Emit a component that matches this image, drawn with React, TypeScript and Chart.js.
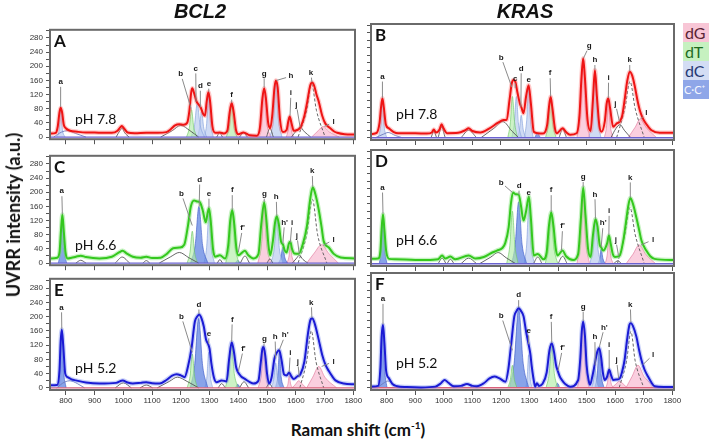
import React, { useEffect, useRef } from "react";
import { Chart, registerables } from "chart.js";
Chart.register(...registerables);

// ---------- axis values ----------
const X_MIN = 745;
const X_MAX = 1806;
const X_STEP = 100;
const Y_MIN = -6;
const Y_STEP = 20;
const Y_LABEL_EVERY = 40;

// ---------- spectra (Raman shift, intensity) ----------
const A_x = [748,765,772,778,782,787,793,800,815,840,870,900,930,960,980,990,995,1002,1015,1040,1080,1120,1150,1165,1180,1195,1210,1222,1230,1236,1240,1246,1255,1262,1270,1278,1284,1290,1296,1302,1310,1320,1336,1350,1362,1370,1377,1384,1392,1400,1418,1440,1465,1475,1484,1490,1496,1504,1511,1518,1526,1531,1537,1545,1555,1568,1574,1579,1585,1593,1605,1616,1630,1640,1650,1657,1664,1672,1680,1692,1703,1720,1735,1744,1770,1806];
const A_y = [10,12,30,70,83,70,35,25,18,15,13,13,12,12,18,28,31,25,13,11,12,12,14,22,33,36,35,40,75,125,138,125,100,92,82,65,60,100,127,100,30,12,13,10,18,70,96,70,20,8,13,5,4,25,110,138,110,40,25,60,140,160,140,50,14,20,45,58,40,18,20,27,60,100,145,154,145,120,100,60,38,25,15,12,8,7];

const B_x = [748,765,775,780,785,790,797,808,825,840,900,940,958,965,972,985,992,999,1012,1050,1075,1087,1100,1128,1160,1190,1209,1220,1230,1238,1244,1250,1258,1266,1272,1279,1288,1297,1305,1315,1330,1345,1362,1368,1374,1380,1389,1395,1416,1428,1442,1465,1475,1482,1488,1494,1503,1514,1522,1529,1536,1545,1552,1564,1570,1576,1582,1593,1605,1616,1625,1633,1642,1651,1660,1669,1678,1686,1695,1703,1715,1727,1756,1806];
const B_y = [10,13,40,80,105,80,35,25,15,12,12,11,14,22,14,22,36,25,12,13,20,25,18,14,25,40,47,48,100,145,154,150,120,92,80,65,110,140,90,16,12,11,35,80,109,80,25,12,25,15,8,12,60,160,212,160,50,18,100,180,110,30,16,45,90,105,80,29,38,43,60,100,150,176,165,136,100,74,55,43,30,20,13,13];

const C_x = [748,770,778,783,788,793,799,806,820,835,852,870,917,960,985,998,1010,1033,1060,1080,1100,1130,1150,1173,1196,1212,1225,1235,1246,1256,1266,1276,1287,1293,1298,1304,1312,1319,1336,1354,1365,1372,1379,1386,1393,1400,1423,1435,1453,1470,1480,1490,1498,1505,1511,1520,1528,1534,1541,1549,1555,1562,1568,1576,1581,1587,1595,1610,1625,1639,1650,1659,1668,1680,1690,1697,1715,1732,1756,1806];
const C_y = [13,15,30,90,137,90,30,13,15,18,21,17,13,18,30,35,28,18,15,18,14,15,25,42,44,52,106,160,177,174,172,150,115,140,155,120,40,18,22,13,50,120,150,110,45,22,35,22,13,25,110,172,120,50,22,60,115,132,110,60,53,35,30,55,60,40,27,26,55,106,180,214,195,150,100,62,44,26,16,13];

const D_x = [748,770,778,782,787,792,798,808,830,900,940,980,994,1005,1023,1040,1087,1110,1140,1165,1186,1205,1215,1227,1235,1242,1252,1262,1270,1279,1288,1298,1305,1315,1329,1349,1360,1368,1376,1384,1392,1398,1416,1428,1453,1470,1480,1488,1496,1505,1514,1522,1531,1538,1546,1551,1558,1572,1578,1584,1592,1599,1616,1628,1637,1645,1653,1662,1674,1684,1692,1709,1723,1738,1806];
const D_y = [13,14,35,90,132,90,35,13,12,10,10,12,22,14,19,12,22,14,18,28,35,42,55,97,160,190,185,184,155,115,140,179,120,22,26,12,30,100,137,100,40,22,35,20,10,25,120,203,130,40,18,75,119,100,50,44,35,55,75,55,25,18,22,60,106,150,175,160,124,90,62,35,20,13,10];

const E_x = [748,770,778,782,786,791,798,806,820,835,870,917,975,998,1015,1033,1060,1080,1100,1126,1150,1170,1185,1200,1213,1225,1237,1249,1257,1264,1272,1280,1288,1295,1300,1307,1315,1324,1342,1359,1368,1377,1385,1392,1397,1410,1423,1440,1453,1470,1478,1484,1488,1494,1500,1507,1516,1526,1535,1542,1550,1559,1568,1577,1584,1593,1605,1616,1630,1642,1650,1657,1664,1674,1684,1692,1703,1715,1727,1738,1767,1806];
const E_y = [7,8,50,130,164,120,40,30,24,21,15,12,14,21,15,12,14,16,13,12,22,34,38,35,30,60,110,186,200,206,195,172,135,123,110,65,30,16,21,18,80,128,100,60,47,32,25,16,12,20,70,110,115,90,40,12,30,83,100,106,80,38,35,43,33,25,32,38,74,150,188,195,185,155,120,92,65,47,32,21,12,10];

const F_x = [748,770,778,782,787,792,798,808,820,837,870,920,970,990,1003,1015,1035,1060,1081,1100,1116,1140,1160,1177,1195,1216,1226,1235,1247,1255,1262,1270,1279,1288,1297,1303,1308,1316,1320,1326,1333,1345,1360,1370,1378,1386,1393,1398,1406,1413,1425,1442,1470,1478,1483,1488,1494,1500,1507,1512,1520,1529,1537,1544,1551,1557,1563,1572,1579,1585,1593,1605,1616,1625,1633,1642,1650,1655,1662,1674,1684,1692,1703,1715,1727,1738,1770,1806];
const F_y = [3,5,55,135,168,120,45,25,10,4,2,1,3,12,21,14,4,5,10,5,4,12,25,30,25,16,50,110,191,205,213,205,191,150,115,90,56,15,3,12,5,10,40,100,119,95,60,47,30,21,10,3,20,80,150,177,140,60,20,8,30,65,95,106,80,40,21,30,49,35,21,22,25,45,74,130,168,173,165,137,100,74,48,30,14,4,2,2];

// ---------- fitted components: [kind, x,y, x,y, ...] ----------
// kinds: G=dG, T=dT, C=dC, CC=C·C+, O=grey outline, K=grey dashed, W=blue-grey outline
const A_comps: (string | number)[][] = [
  ["W", 758,0, 785,14, 805,18, 835,10, 870,0],
  ["C", 768,0, 777,22, 782,80, 788,22, 797,0],
  ["O", 975,0, 988,18, 996,25, 1005,12, 1020,0],
  ["O", 1130,0, 1170,18, 1200,33, 1232,18, 1262,0],
  ["T", 1220,0, 1230,28, 1237,78, 1245,28, 1256,0],
  ["C", 1236,0, 1248,35, 1257,95, 1267,35, 1282,0],
  ["C", 1258,0, 1265,25, 1272,72, 1280,25, 1290,0],
  ["C", 1282,0, 1290,38, 1297,125, 1304,38, 1313,0],
  ["O", 1325,0, 1335,12, 1345,0],
  ["T", 1358,0, 1369,30, 1377,95, 1385,30, 1396,0],
  ["O", 1404,0, 1418,12, 1432,0],
  ["G", 1468,0, 1481,42, 1490,138, 1499,42, 1512,0],
  ["O", 1498,0, 1510,25, 1522,0],
  ["C", 1510,0, 1522,48, 1531,160, 1540,48, 1552,0],
  ["G", 1567,0, 1573,18, 1579,56, 1585,18, 1592,0],
  ["O", 1585,0, 1602,18, 1615,28, 1630,15, 1652,0],
  ["K", 1608,0, 1638,75, 1655,150, 1672,75, 1702,0],
  ["G", 1655,0, 1678,18, 1695,30, 1716,15, 1752,0],
];
const B_comps: (string | number)[][] = [
  ["W", 760,0, 790,10, 805,14, 830,6, 855,0],
  ["C", 770,0, 779,32, 785,102, 791,32, 800,0],
  ["O", 955,0, 965,16, 975,0],
  ["O", 980,0, 992,28, 1005,0],
  ["O", 1060,0, 1087,20, 1115,0],
  ["O", 1130,0, 1175,25, 1207,43, 1238,18, 1262,0],
  ["T", 1224,0, 1233,40, 1240,110, 1248,40, 1258,0],
  ["C", 1238,0, 1247,40, 1254,110, 1261,40, 1272,0],
  ["C", 1258,0, 1265,22, 1271,60, 1278,22, 1286,0],
  ["C", 1282,0, 1290,45, 1297,135, 1304,45, 1313,0],
  ["CC", 1318,0, 1328,12, 1338,0],
  ["T", 1356,0, 1366,36, 1374,105, 1382,36, 1393,0],
  ["O", 1403,0, 1416,22, 1430,0],
  ["G", 1466,0, 1479,70, 1488,210, 1497,70, 1510,0],
  ["C", 1508,0, 1520,58, 1529,178, 1538,58, 1550,0],
  ["G", 1562,0, 1570,32, 1576,100, 1583,32, 1592,0],
  ["O", 1585,0, 1603,25, 1617,35, 1632,20, 1655,0],
  ["K", 1605,0, 1634,78, 1652,150, 1670,78, 1702,0],
  ["G", 1645,0, 1670,28, 1688,50, 1708,28, 1745,0],
];
const C_comps: (string | number)[][] = [
  ["CC", 774,0, 782,40, 788,135, 794,40, 803,0],
  ["O", 835,0, 852,8, 870,0],
  ["O", 972,0, 996,17, 1022,0],
  ["O", 1068,0, 1080,7, 1092,0],
  ["O", 1125,0, 1165,18, 1195,30, 1228,15, 1262,0],
  ["T", 1222,0, 1232,30, 1240,90, 1248,30, 1258,0],
  ["CC", 1234,0, 1250,50, 1263,160, 1276,50, 1294,0],
  ["C", 1281,0, 1290,45, 1298,140, 1306,45, 1317,0],
  ["O", 1327,0, 1336,10, 1345,0],
  ["T", 1356,0, 1369,48, 1379,145, 1389,48, 1402,0],
  ["CC", 1390,0, 1398,8, 1406,0],
  ["O", 1407,0, 1423,20, 1439,0],
  ["G", 1468,0, 1481,55, 1490,165, 1499,55, 1512,0],
  ["O", 1500,0, 1510,12, 1520,0],
  ["C", 1513,0, 1525,40, 1534,125, 1543,40, 1555,0],
  ["CC", 1540,0, 1548,15, 1555,45, 1562,15, 1571,0],
  ["G", 1569,0, 1576,17, 1581,50, 1587,17, 1596,0],
  ["O", 1588,0, 1603,14, 1612,22, 1625,10, 1642,0],
  ["K", 1608,0, 1638,80, 1658,180, 1676,80, 1708,0],
  ["G", 1638,0, 1664,28, 1690,52, 1714,28, 1748,0],
];
const D_comps: (string | number)[][] = [
  ["CC", 774,0, 781,40, 787,128, 793,40, 801,0],
  ["O", 980,0, 994,15, 1008,0],
  ["O", 1011,0, 1023,12, 1036,0],
  ["O", 1060,0, 1087,15, 1115,0],
  ["O", 1125,0, 1165,18, 1190,30, 1218,16, 1252,0],
  ["T", 1220,0, 1231,48, 1240,140, 1249,48, 1260,0],
  ["CC", 1238,0, 1250,52, 1262,165, 1274,52, 1290,0],
  ["C", 1281,0, 1290,50, 1298,160, 1306,50, 1317,0],
  ["O", 1314,0, 1329,18, 1344,0],
  ["T", 1355,0, 1366,42, 1376,130, 1386,42, 1399,0],
  ["O", 1400,0, 1416,20, 1432,0],
  ["G", 1466,0, 1479,62, 1488,195, 1497,62, 1510,0],
  ["C", 1511,0, 1522,38, 1531,115, 1540,38, 1551,0],
  ["CC", 1539,0, 1546,14, 1551,40, 1557,14, 1565,0],
  ["G", 1565,0, 1572,23, 1578,70, 1584,23, 1593,0],
  ["O", 1594,0, 1610,8, 1622,0],
  ["K", 1608,0, 1634,78, 1652,150, 1670,78, 1702,0],
  ["G", 1638,0, 1662,25, 1684,50, 1707,25, 1742,0],
];
const E_comps: (string | number)[][] = [
  ["W", 768,0, 795,16, 815,20, 840,12, 865,0],
  ["CC", 774,0, 780,50, 786,160, 792,50, 801,0],
  ["O", 972,0, 1000,14, 1028,0],
  ["O", 1058,0, 1080,8, 1102,0],
  ["O", 1118,0, 1160,18, 1188,30, 1222,18, 1262,0],
  ["T", 1222,0, 1232,32, 1240,95, 1248,32, 1258,0],
  ["CC", 1233,0, 1248,62, 1262,195, 1276,62, 1294,0],
  ["C", 1284,0, 1291,32, 1297,100, 1303,32, 1311,0],
  ["O", 1330,0, 1342,12, 1355,0],
  ["T", 1355,0, 1366,40, 1376,120, 1386,40, 1399,0],
  ["CC", 1390,0, 1398,10, 1406,0],
  ["O", 1404,0, 1420,17, 1436,0],
  ["G", 1469,0, 1480,36, 1488,112, 1496,36, 1507,0],
  ["O", 1497,0, 1508,12, 1519,0],
  ["C", 1514,0, 1523,23, 1530,70, 1537,23, 1547,0],
  ["CC", 1529,0, 1537,32, 1543,100, 1549,32, 1559,0],
  ["G", 1567,0, 1573,11, 1577,35, 1582,11, 1590,0],
  ["G", 1588,0, 1600,11, 1610,20, 1622,11, 1636,0],
  ["K", 1614,0, 1638,75, 1654,160, 1670,75, 1697,0],
  ["G", 1638,0, 1659,30, 1680,60, 1701,30, 1742,0],
];
const F_comps: (string | number)[][] = [
  ["W", 768,0, 792,14, 805,18, 830,6, 852,0],
  ["CC", 774,0, 780,55, 786,165, 792,55, 801,0],
  ["T", 1224,0, 1233,22, 1240,60, 1247,22, 1256,0],
  ["CC", 1230,0, 1246,65, 1262,210, 1278,65, 1297,0],
  ["C", 1287,0, 1292,28, 1297,88, 1302,28, 1309,0],
  ["T", 1358,0, 1369,38, 1378,115, 1387,38, 1399,0],
  ["CC", 1390,0, 1398,12, 1406,0],
  ["G", 1468,0, 1479,55, 1488,175, 1497,55, 1509,0],
  ["C", 1517,0, 1524,18, 1529,55, 1535,18, 1543,0],
  ["CC", 1529,0, 1537,34, 1544,105, 1551,34, 1561,0],
  ["G", 1567,0, 1573,14, 1579,45, 1585,14, 1593,0],
  ["G", 1588,0, 1603,10, 1615,18, 1628,10, 1642,0],
  ["K", 1614,0, 1640,72, 1655,150, 1670,72, 1700,0],
  ["G", 1638,0, 1659,30, 1680,60, 1701,30, 1742,0],
];

// ---------- peak labels: [text, labelX, labelY, tipX, tipY] ----------
const A_labels: (string | number)[][] = [
  ["a", 782,156, 782,85], ["b", 1200,178, 1236,80], ["c", 1252,194, 1253,100],
  ["d", 1268,145, 1268,84], ["e", 1298,151, 1297,128], ["f", 1377,120, 1377,97],
  ["g", 1490,180, 1490,140], ["h", 1583,172, 1533,160], ["i", 1583,125, 1580,60],
  ["j", 1602,92, 1615,28], ["k", 1653,182, 1656,155], ["l", 1732,43, 1700,30],
];
const B_labels: (string | number)[][] = [
  ["a", 785,163, 785,106], ["b", 1201,214, 1238,135], ["c", 1250,158, 1250,132],
  ["d", 1271,185, 1270,82], ["e", 1297,154, 1297,140], ["f", 1372,172, 1374,110],
  ["g", 1509,244, 1489,212], ["h", 1529,207, 1529,181], ["i", 1577,160, 1576,106],
  ["j", 1601,90, 1615,43], ["k", 1651,207, 1651,177], ["l", 1709,67, 1690,50],
];
const C_labels: (string | number)[][] = [
  ["a", 786,203, 788,138], ["b", 1202,196, 1240,106], ["d", 1266,236, 1264,160],
  ["e", 1298,196, 1298,156], ["f", 1379,206, 1379,150], ["f'", 1415,99, 1400,30],
  ["g", 1491,196, 1490,172], ["h", 1532,187, 1534,133], ["h'", 1561,115, 1555,55],
  ["i", 1587,115, 1581,58], ["j", 1604,78, 1612,26], ["k", 1657,260, 1659,215],
  ["l", 1732,66, 1695,50],
];
const D_labels: (string | number)[][] = [
  ["a", 785,203, 787,133], ["b", 1201,216, 1240,190], ["d", 1264,208, 1263,184],
  ["e", 1297,190, 1298,179], ["f", 1376,196, 1376,138], ["f'", 1416,100, 1412,35],
  ["g", 1488,231, 1488,204], ["h", 1529,185, 1531,120], ["h'", 1558,108, 1551,44],
  ["i", 1579,141, 1578,76], ["j", 1602,64, 1612,20], ["k", 1653,230, 1653,176],
  ["l", 1733,64, 1690,50],
];
const E_labels: (string | number)[][] = [
  ["a", 785,226, 786,165], ["b", 1202,200, 1240,100], ["d", 1263,234, 1263,207],
  ["e", 1298,153, 1297,124], ["f", 1379,192, 1377,129], ["f'", 1418,110, 1400,45],
  ["g", 1491,139, 1489,116], ["h", 1528,144, 1530,83], ["h'", 1563,148, 1543,107],
  ["i", 1581,99, 1577,44], ["j", 1607,74, 1612,30], ["k", 1654,240, 1656,196],
  ["l", 1732,74, 1690,60],
];
const F_labels: (string | number)[][] = [
  ["a", 787,237, 787,169], ["b", 1201,192, 1240,100], ["d", 1262,247, 1262,214],
  ["e", 1297,153, 1297,116], ["f", 1376,189, 1378,120], ["f'", 1416,106, 1400,45],
  ["g", 1488,216, 1488,178], ["h", 1529,135, 1530,60], ["h'", 1562,161, 1544,107],
  ["i", 1579,114, 1579,50], ["j", 1605,74, 1612,25], ["k", 1653,222, 1655,174],
  ["l", 1733,88, 1695,60],
];

const PANEL_LETTERS = ["A", "B", "C", "D", "E", "F"];
const PH_TEXT = ["pH 7.8", "pH 7.8", "pH 6.6", "pH 6.6", "pH 5.2", "pH 5.2"];
const COLUMN_TITLES = ["BCL2", "KRAS"];
const LEGEND_LABELS = ["dG", "dT", "dC", "C·C⁺"];

// ---------- styles ----------
const FILL: Record<string, string> = {
  G: "rgba(246,168,196,0.55)",
  T: "rgba(178,236,168,0.65)",
  C: "rgba(186,204,240,0.7)",
  CC: "rgba(96,132,226,0.75)",
};
const EDGE: Record<string, string> = {
  G: "rgba(225,120,155,0.9)",
  T: "rgba(110,200,100,0.9)",
  C: "rgba(130,160,220,0.9)",
  CC: "rgba(60,90,200,0.9)",
  O: "#555555",
  K: "#555555",
  W: "#6d7bbd",
};
const LINE_STYLES = [
  { line: "#ee1414", halo: "rgba(255,120,120,0.4)", base: "#6a62d0" },
  { line: "#34c81e", halo: "rgba(130,228,120,0.45)", base: "#6a62d0" },
  { line: "#1b1bd4", halo: "rgba(120,140,240,0.4)", base: "#d8607a" },
];
const LEGEND_COLORS = [
  { bg: "#f8c6d6", fg: "#5a2434" },
  { bg: "#c6f1c0", fg: "#1f6a1f" },
  { bg: "#d3ddf4", fg: "#263a73" },
  { bg: "#8ea6e8", fg: "#f4f6ff" },
];

const PANEL_DATA = [
  { xs: A_x, ys: A_y, comps: A_comps, labels: A_labels },
  { xs: B_x, ys: B_y, comps: B_comps, labels: B_labels },
  { xs: C_x, ys: C_y, comps: C_comps, labels: C_labels },
  { xs: D_x, ys: D_y, comps: D_comps, labels: D_labels },
  { xs: E_x, ys: E_y, comps: E_comps, labels: E_labels },
  { xs: F_x, ys: F_y, comps: F_comps, labels: F_labels },
];

// frame geometry
const COL_LEFT = [50, 371];
const COL_WIDTH = [305, 303];
const ROW_TOP = [24, 150, 273];
const ROW_HEIGHT = [116, 116, 117];
const ROW_YMAX = [303, 303, 306];

function Panel({ idx }: { idx: number }) {
  const ref = useRef<HTMLCanvasElement>(null);
  const col = idx % 2;
  const row = Math.floor(idx / 2);
  const yW = col === 0 ? 50 : 20;
  const xH = row === 2 ? 22 : 7;
  const padT = 2;
  const padR = 14;
  const cw = yW + COL_WIDTH[col] + padR;
  const ch = padT + ROW_HEIGHT[row] + xH;
  const left = COL_LEFT[col] - yW;
  const top = ROW_TOP[row] - padT;

  useEffect(() => {
    const pd = PANEL_DATA[idx];
    const st = LINE_STYLES[row];
    const pts = pd.xs.map((x, i) => ({ x, y: pd.ys[i] }));
    const datasets: any[] = [
      { data: pts, borderColor: st.line, borderWidth: 2, order: 0 },
      { data: pts, borderColor: st.halo, borderWidth: 4.5, order: 1 },
      {
        data: [{ x: X_MIN, y: 0 }, { x: X_MAX, y: 0 }],
        borderColor: st.base,
        borderWidth: 1.4,
        order: 2,
      },
    ];
    pd.comps.forEach((c) => {
      const kind = c[0] as string;
      const cp: { x: number; y: number }[] = [];
      for (let i = 1; i < c.length; i += 2) cp.push({ x: c[i] as number, y: c[i + 1] as number });
      const filled = !!FILL[kind];
      datasets.push({
        data: cp,
        borderColor: EDGE[kind],
        borderWidth: filled ? 0.7 : 0.9,
        borderDash: kind === "K" ? [3, 2] : undefined,
        backgroundColor: filled ? FILL[kind] : undefined,
        fill: filled ? "origin" : false,
        order: filled ? 4 : 3,
      });
    });

    const decor = {
      id: "decor",
      afterDatasetsDraw(chart: any) {
        const { ctx, chartArea, scales } = chart;
        const xs = scales.x;
        const ys = scales.y;
        ctx.save();
        pd.labels.forEach((l) => {
          const lx = xs.getPixelForValue(l[1] as number);
          const ly = ys.getPixelForValue(l[2] as number);
          const tx = xs.getPixelForValue(l[3] as number);
          const ty = ys.getPixelForValue(l[4] as number);
          const dx = tx - lx;
          const dy = ty - ly;
          const len = Math.hypot(dx, dy) || 1;
          ctx.strokeStyle = "#8a8a8a";
          ctx.lineWidth = 1;
          ctx.beginPath();
          ctx.moveTo(lx + (dx / len) * 5, ly + (dy / len) * 5);
          ctx.lineTo(tx, ty);
          ctx.stroke();
          ctx.fillStyle = "#1a1a1a";
          ctx.font = "bold 8px 'Liberation Sans', Arial, sans-serif";
          ctx.textAlign = "center";
          ctx.textBaseline = "middle";
          ctx.fillText(l[0] as string, lx, ly);
        });
        ctx.fillStyle = "#111";
        ctx.font = "bold 17px Lato, 'Liberation Sans', sans-serif";
        ctx.textAlign = "left";
        ctx.textBaseline = "top";
        ctx.fillText(PANEL_LETTERS[idx], chartArea.left + 4, chartArea.top + 3);
        ctx.font = "14px Lato, 'Liberation Sans', sans-serif";
        ctx.textBaseline = "middle";
        ctx.fillText(PH_TEXT[idx], chartArea.left + 25, chartArea.top + 90);
        ctx.strokeStyle = "#6a6a6a";
        ctx.lineWidth = 2;
        ctx.strokeRect(chartArea.left, chartArea.top, chartArea.right - chartArea.left, chartArea.bottom - chartArea.top);
        ctx.restore();
      },
    };

    const chart = new Chart(ref.current as HTMLCanvasElement, {
      type: "line",
      data: { datasets },
      options: {
        animation: false,
        responsive: false,
        maintainAspectRatio: false,
        devicePixelRatio: 1,
        layout: { padding: { top: padT, right: padR, left: 0, bottom: 0 } },
        elements: {
          point: { radius: 0 },
          line: { cubicInterpolationMode: "monotone", fill: false },
        },
        plugins: { legend: { display: false }, tooltip: { enabled: false } },
        scales: {
          x: {
            type: "linear",
            min: X_MIN,
            max: X_MAX,
            afterFit: (s: any) => { s.height = xH; },
            border: { display: false },
            grid: { drawOnChartArea: false, drawTicks: true, tickLength: 5, color: "#555", lineWidth: 1 },
            ticks: {
              stepSize: X_STEP,
              includeBounds: false,
              display: row === 2,
              padding: 1,
              color: "#333",
              font: { size: 8, family: "'Liberation Sans', Arial, sans-serif" },
              maxRotation: 0,
              autoSkip: false,
              callback: (v: any) => String(v),
            },
          },
          y: {
            type: "linear",
            min: Y_MIN,
            max: ROW_YMAX[row],
            afterFit: (s: any) => { s.width = yW; },
            border: { display: false },
            grid: { drawOnChartArea: false, drawTicks: true, tickLength: 4, color: "#555", lineWidth: 1 },
            ticks: {
              stepSize: Y_STEP,
              includeBounds: false,
              display: col === 0,
              padding: 3,
              color: "#333",
              font: { size: 8, family: "'Liberation Sans', Arial, sans-serif" },
              autoSkip: false,
              callback: (v: any) => (Number(v) % Y_LABEL_EVERY === 0 ? String(v) : ""),
            },
          },
        },
      },
      plugins: [decor],
    } as any);
    return () => chart.destroy();
  }, []);

  return (
    <canvas
      ref={ref}
      width={cw}
      height={ch}
      style={{ position: "absolute", left, top, width: cw, height: ch }}
    />
  );
}

export default function App() {
  return (
    <div style={{ position: "absolute", left: 0, top: 0, width: 709, height: 439, background: "#fff", overflow: "hidden", fontFamily: "Lato, sans-serif" }}>
      {[0, 1, 2, 3, 4, 5].map((i) => (
        <Panel key={i} idx={i} />
      ))}
      {COLUMN_TITLES.map((t, i) => (
        <div
          key={t}
          style={{
            position: "absolute",
            left: i === 0 ? 200 : 525,
            top: 11,
            transform: "translate(-50%,-50%)",
            font: "italic bold 20px 'Liberation Sans', Arial, sans-serif",
            color: "#111",
            whiteSpace: "nowrap",
          }}
        >
          {t}
        </div>
      ))}
      <div
        style={{
          position: "absolute",
          left: 13,
          top: 215,
          transform: "translate(-50%,-50%) rotate(-90deg)",
          font: "bold 18px Lato, sans-serif",
          color: "#111",
          whiteSpace: "nowrap",
        }}
      >
        UVRR intensity (a.u.)
      </div>
      <div
        style={{
          position: "absolute",
          left: 358,
          top: 429,
          transform: "translate(-50%,-50%)",
          font: "bold 17px Lato, sans-serif",
          color: "#111",
          whiteSpace: "nowrap",
        }}
      >
        Raman shift (cm<sup style={{ fontSize: "10px" }}>-1</sup>)
      </div>
      {LEGEND_LABELS.map((t, i) => (
        <div
          key={t}
          style={{
            position: "absolute",
            left: 683,
            top: 23 + i * 19,
            width: 26,
            height: 19,
            background: LEGEND_COLORS[i].bg,
            color: LEGEND_COLORS[i].fg,
            font: i === 3 ? "11px Lato, sans-serif" : "16px Lato, sans-serif",
            lineHeight: "19px",
            paddingLeft: i === 3 ? 1 : 2,
            boxSizing: "border-box",
            whiteSpace: "nowrap",
            overflow: "hidden",
          }}
        >
          {t}
        </div>
      ))}
    </div>
  );
}
